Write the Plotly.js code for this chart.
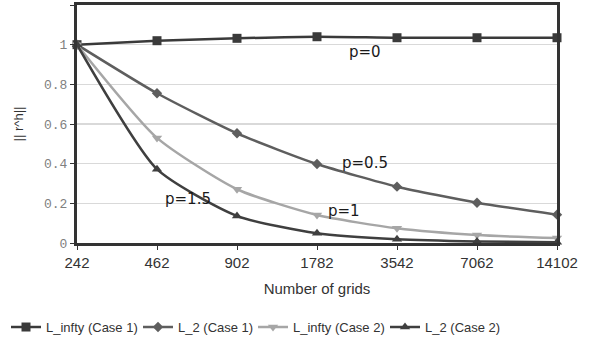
<!DOCTYPE html>
<html><head><meta charset="utf-8">
<script src="https://cdn.plot.ly/plotly-3.0.1.min.js"></script>
<style>html,body{margin:0;padding:0;background:#fff}#c{width:592px;height:345px}</style>
</head><body><div id="c"></div>
<script>
const grids = ["242","462","902","1782","3542","7062","14102"];
const linfCase1 = [1.0, 1.02, 1.032, 1.04, 1.035, 1.035, 1.035];
const l2Case1 = [1.0, 0.755, 0.553, 0.398, 0.284, 0.203, 0.143];
const linfCase2 = [1.0, 0.53, 0.271, 0.141, 0.074, 0.04, 0.025];
const l2Case2 = [1.0, 0.372, 0.136, 0.049, 0.019, 0.008, 0.004];
const names = ["L_infty (Case 1)","L_2 (Case 1)","L_infty (Case 2)","L_2 (Case 2)"];
const labels = [{t:"p=0",x:3.6,y:0.963},{t:"p=0.5",x:3.6,y:0.403},{t:"p=1",x:3.34,y:0.161},{t:"p=1.5",x:1.39,y:0.222}];

const xi = grids.map((g,i)=>i);
const legIds = ['legend','legend2','legend3','legend4'];
function tr(y,name,color,sym,size,k){
  return {x:xi,y:y,name:name,type:'scatter',mode:'lines+markers',cliponaxis:false,legend:legIds[k],
    line:{color:color,width:2.5,shape:'spline',smoothing:0.6},
    marker:{symbol:sym,size:size,color:color}};
}
const data = [
  tr(linfCase1,names[0],'#3a3a3a','square',9,0),
  tr(l2Case1,names[1],'#5e5e5e','diamond',8,1),
  tr(linfCase2,names[2],'#a6a6a6','triangle-down',9,2),
  tr(l2Case2,names[3],'#3f3f3f','triangle-up',9,3)
];
const legFont = {family:'Liberation Sans, Arial',size:13,color:'#333'};
const legX = [6,138,253,385];
const layout = {
  width:592,height:345,margin:{l:77,r:35,t:5,b:102,autoexpand:false},
  paper_bgcolor:'#fff',plot_bgcolor:'#fff',
  showlegend:true,
  xaxis:{range:[0,6],tickvals:xi,ticktext:grids,showgrid:false,zeroline:false,
    showline:true,linecolor:'#333',linewidth:3,mirror:true,
    ticks:'outside',ticklen:4,tickcolor:'#333',
    tickfont:{family:'Liberation Sans, Arial',size:15,color:'#333'},
    title:{text:'Number of grids',font:{family:'Liberation Sans, Arial',size:15,color:'#333'},standoff:14}},
  yaxis:{range:[0,1.2],tickvals:[0,0.2,0.4,0.6,0.8,1,1.2],ticktext:['0','0.2','0.4','0.6','0.8','1','1.2'],
    showgrid:true,gridcolor:'#d9d9d9',gridwidth:1.5,zeroline:false,
    showline:true,linecolor:'#333',linewidth:3,mirror:true,
    ticks:'outside',ticklen:4,tickcolor:'#333',
    tickfont:{family:'Liberation Mono, DejaVu Sans Mono, monospace',size:13,color:'#808080'},
    title:{text:'|| r^h||',font:{family:'Liberation Sans, Arial',size:13,color:'#333'},standoff:18}},
  annotations: labels.map(a=>({x:a.x,y:a.y,xref:'x',yref:'y',text:a.t,showarrow:false,
    font:{family:'DejaVu Sans',size:15,color:'#1a1a1a'}}))
};
legIds.forEach((id,k)=>{
  layout[id] = {orientation:'h',xref:'container',yref:'container',x:legX[k]/592,xanchor:'left',
    y:0.052,yanchor:'middle',font:legFont,itemwidth:30,bgcolor:'rgba(0,0,0,0)'};
});
Plotly.newPlot('c',data,layout,{displayModeBar:false,staticPlot:true});
</script></body></html>
